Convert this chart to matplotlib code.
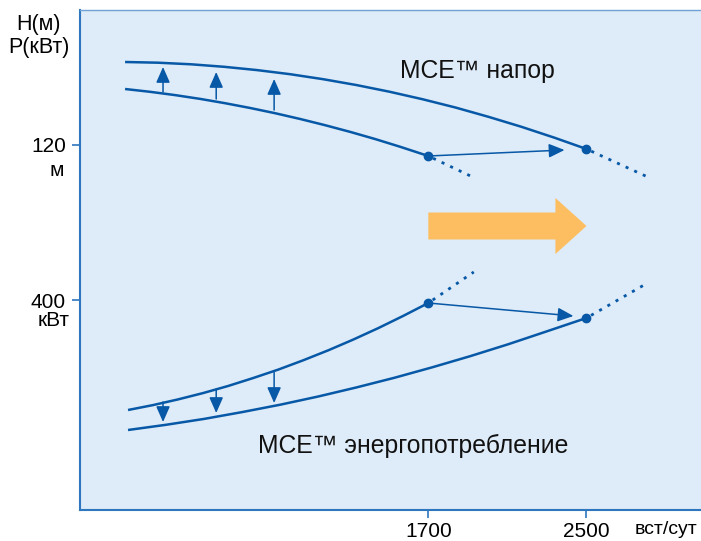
import matplotlib
matplotlib.use("Agg")
import matplotlib.pyplot as plt
from matplotlib.patches import FancyArrow

plt.rcParams['font.family'] = ['Liberation Sans', 'DejaVu Sans']

# ---- data (x: вст/сут, y: relative chart units) ----
head_mce_x = [166, 333, 500, 667, 834, 1001, 1168, 1335, 1503, 1670, 1837, 2004, 2171, 2338, 2500]
head_mce_y = [448, 447.3, 445.7, 443.2, 439.9, 435.8, 430.8, 425.0, 418.3, 410.8, 402.5, 393.2, 383.2, 372.3, 361]
head_mce_ext_x = [2500, 2799]
head_mce_ext_y = [361, 334]

head_std_x = [166, 292, 419, 546, 672, 799, 925, 1052, 1178, 1305, 1432, 1558, 1700]
head_std_y = [421, 418.2, 414.9, 411.1, 406.8, 402.0, 396.8, 391.0, 384.8, 378.1, 370.9, 363.2, 354]
head_std_ext_x = [1700, 1935]
head_std_ext_y = [354, 332]

pow_std_x = [181, 307, 434, 560, 687, 813, 941, 1067, 1194, 1320, 1447, 1573, 1700]
pow_std_y = [100, 104.9, 110.6, 116.9, 124.0, 131.9, 140.4, 149.7, 159.7, 170.4, 181.9, 194.1, 207]
pow_std_ext_x = [1700, 1930]
pow_std_ext_y = [207, 238]

pow_mce_x = [181, 373, 566, 758, 951, 1143, 1335, 1528, 1720, 1913, 2105, 2297, 2500]
pow_mce_y = [80, 85.2, 91.1, 97.9, 105.3, 113.5, 122.5, 132.2, 142.7, 153.9, 165.8, 178.5, 192]
pow_mce_ext_x = [2500, 2809]
pow_mce_ext_y = [192, 227]

up_arrow_x = [358, 627, 920]
up_arrow_from = [418, 411, 400]
up_arrow_to = [443, 438, 431]

down_arrow_x = [358, 627, 920]
down_arrow_from = [108, 121, 139]
down_arrow_to = [88, 97, 107]

shift_head_from = (1700, 354)
shift_head_to = (2389, 360)
shift_pow_from = (1700, 207)
shift_pow_to = (2434, 194)

x_ticks = [1700, 2500]
x_tick_labels = ['1700', '2500']
y_ticks = [365, 210]
y_tick_labels = ['120', '400']
y_unit_labels = ['м', 'кВт']

BLUE = '#0758A6'
SPINE = '#2E76BE'
BG = '#DEEBF8'
ORANGE = '#FCBE60'

W, H = 701, 541
fig = plt.figure(figsize=(W / 100, H / 100), dpi=100)
ax = fig.add_axes([80 / W, 31 / H, 1.003 - 80 / W, 500 / H])
ax.set_facecolor(BG)
ax.set_xlim(-62, 3090)
ax.set_ylim(0, 500)

for s in ['left', 'bottom', 'top']:
    ax.spines[s].set_color(SPINE)
    ax.spines[s].set_linewidth(1.5)
ax.spines['top'].set_linewidth(1.0)
ax.spines['top'].set_color('#6FA3D6')
ax.spines['right'].set_visible(False)

ax.set_xticks(x_ticks)
ax.set_xticklabels(x_tick_labels, fontsize=15)
ax.set_yticks(y_ticks)
ax.set_yticklabels(y_tick_labels, fontsize=15)
ax.tick_params(axis='both', direction='out', length=6, width=1.2, color=SPINE)
ax.tick_params(axis='x', pad=2.5)
ax.tick_params(axis='y', pad=4)

lw = 1.8
for cx, cy in [(head_mce_x, head_mce_y), (head_std_x, head_std_y),
               (pow_std_x, pow_std_y), (pow_mce_x, pow_mce_y)]:
    ax.plot(cx, cy, color=BLUE, lw=lw, solid_capstyle='butt', solid_joinstyle='round')
for ex, ey in [(head_mce_ext_x, head_mce_ext_y), (head_std_ext_x, head_std_ext_y),
               (pow_std_ext_x, pow_std_ext_y), (pow_mce_ext_x, pow_mce_ext_y)]:
    ax.plot(ex, ey, color=BLUE, lw=2.0, linestyle=(1.5, (1.1, 2.3)))

# dots
ax.plot([head_mce_x[-1], head_std_x[-1], pow_std_x[-1], pow_mce_x[-1]],
        [head_mce_y[-1], head_std_y[-1], pow_std_y[-1], pow_mce_y[-1]],
        'o', color=BLUE, markersize=6, zorder=5)

arrow_style = '-|>,head_length=0.95,head_width=0.42'
for x, y0, y1 in zip(up_arrow_x, up_arrow_from, up_arrow_to):
    ax.annotate('', xy=(x, y1), xytext=(x, y0),
                arrowprops=dict(arrowstyle=arrow_style, mutation_scale=10,
                                color=BLUE, lw=1.1, shrinkA=0, shrinkB=0))
for x, y0, y1 in zip(down_arrow_x, down_arrow_from, down_arrow_to):
    ax.annotate('', xy=(x, y1), xytext=(x, y0),
                arrowprops=dict(arrowstyle=arrow_style, mutation_scale=10,
                                color=BLUE, lw=1.1, shrinkA=0, shrinkB=0))
for a, b in [(shift_head_from, shift_head_to), (shift_pow_from, shift_pow_to)]:
    ax.annotate('', xy=b, xytext=a,
                arrowprops=dict(arrowstyle=arrow_style, mutation_scale=10,
                                color=BLUE, lw=1.1, shrinkA=0, shrinkB=0))

# big orange arrow
ax.add_patch(FancyArrow(1700, 284, 800, 0, width=27, head_width=56,
                        head_length=157, length_includes_head=True,
                        color=ORANGE, lw=0, zorder=3))

ax.text(1558, 432, 'МСЕ™ напор', fontsize=17.8, color='#111111', va='baseline', ha='left')
ax.text(839, 57, 'МСЕ™ энергопотребление', fontsize=17.8, color='#111111', va='baseline', ha='left')

# y-axis units under tick labels
fig.text(57 / W, 1 - 170 / H, y_unit_labels[0], fontsize=15, ha='center', va='center')
fig.text(54 / W, 1 - 321 / H, y_unit_labels[1], fontsize=15, ha='center', va='center')

fig.text(39 / W, 1 - 36 / H, 'Н(м)\nР(кВт)', fontsize=15.5, ha='center', va='center',
         linespacing=1.1)
fig.text(666 / W, 1 - 530 / H, 'вст/сут', fontsize=14, ha='center', va='center')

fig.savefig('out.png', dpi=100)
